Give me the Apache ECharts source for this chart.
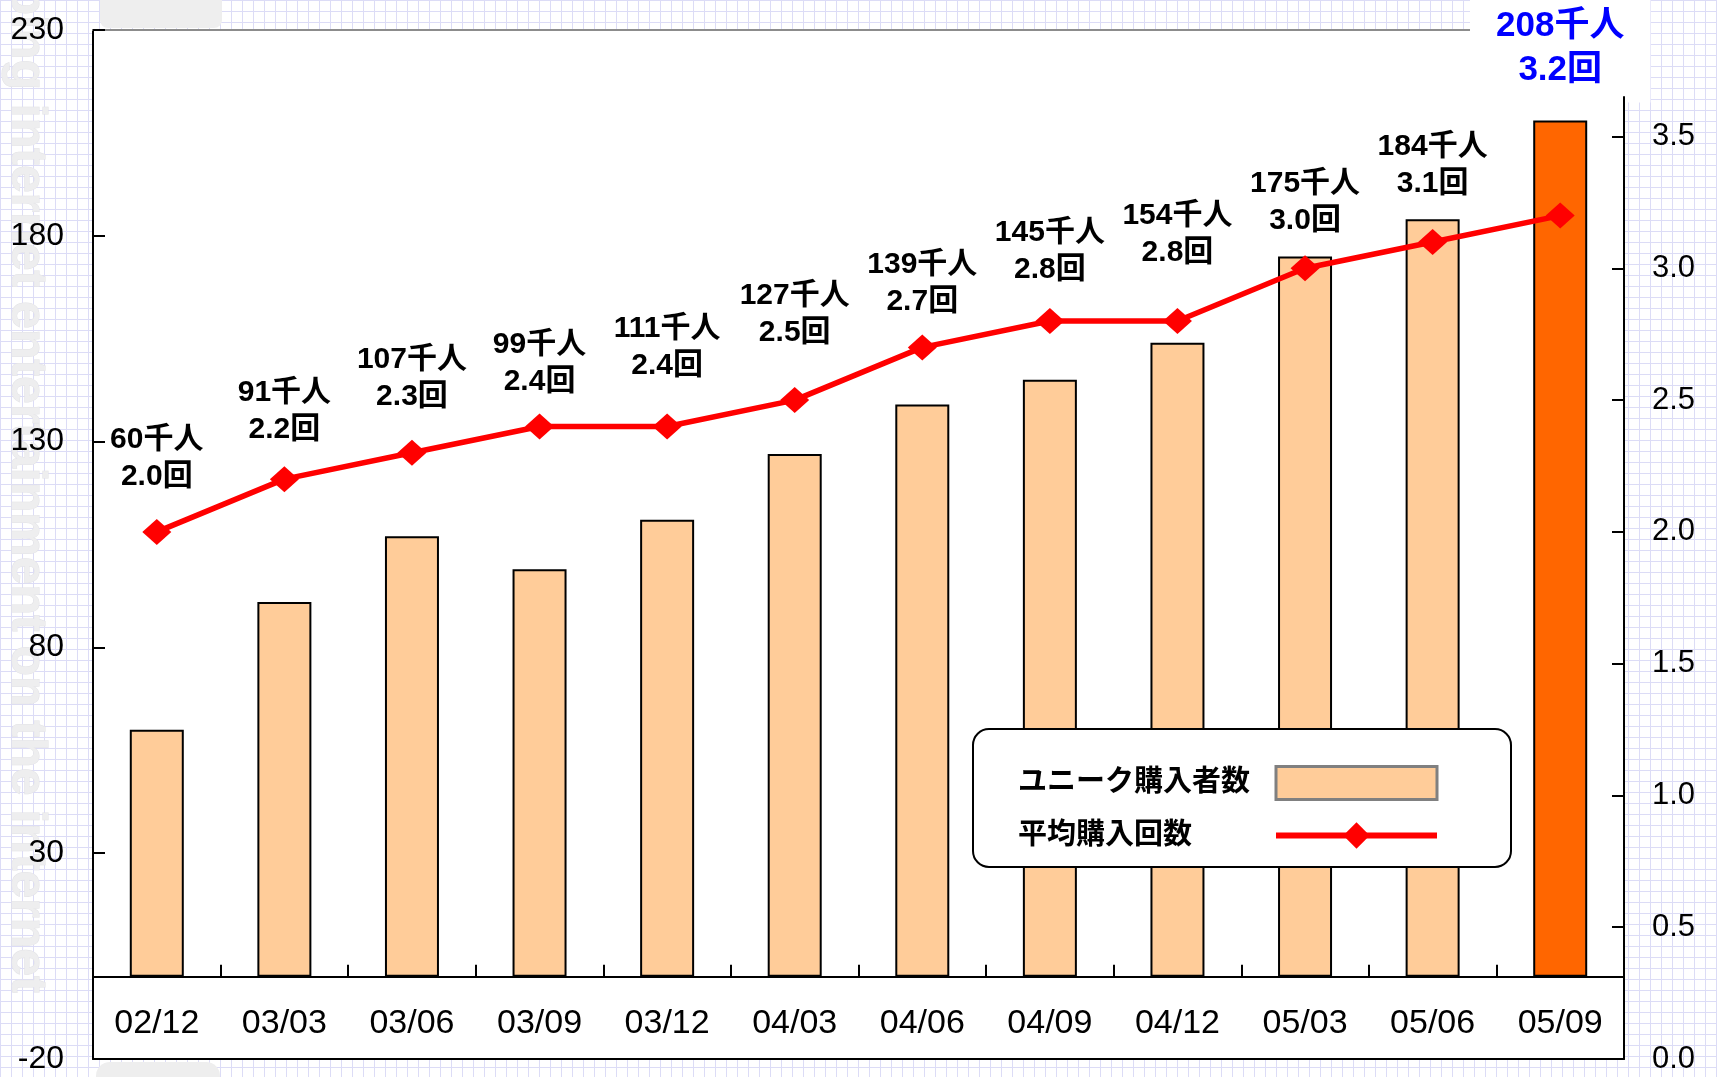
<!DOCTYPE html>
<html>
<head>
<meta charset="utf-8">
<script src="https://cdn.jsdelivr.net/npm/echarts@6/dist/echarts.min.js"></script>
<style>
  html, body {
    margin: 0;
    padding: 0;
    background-color: #fff;
    background-image:
      linear-gradient(to right, #dcdcf6 1px, transparent 1px),
      linear-gradient(to bottom, #dcdcf6 1px, transparent 1px);
    background-size: 11px 11px;
  }
  #chart { width: 1717px; height: 1077px; }
</style>
</head>
<body>
<div id="chart"></div>
<script>
// data
const categories = ['02/12', '03/03', '03/06', '03/09', '03/12', '04/03', '04/06', '04/09', '04/12', '05/03', '05/06', '05/09'];
const buyers = [60, 91, 107, 99, 111, 127, 139, 145, 154, 175, 184, 208];        // 千人
const avgPurchases = [2.0, 2.2, 2.3, 2.4, 2.4, 2.5, 2.7, 2.8, 2.8, 3.0, 3.1, 3.2]; // 回
const leftTicks = [-20, 30, 80, 130, 180, 230];
const rightTicks = [0, 0.5, 1.0, 1.5, 2.0, 2.5, 3.0, 3.5];
const seriesNames = ['ユニーク購入者数', '平均購入回数'];

const FONT = "'Liberation Sans', 'Noto Sans CJK JP', sans-serif";
const last = categories.length - 1;

// plot box
const GRID_TOP = 30, GRID_BOTTOM = 18, CHART_H = 1077;
const leftMin = leftTicks[0], leftMax = leftTicks[leftTicks.length - 1];
// lift the category axis from the bottom edge up to the value 0
const zeroOffset = -(CHART_H - GRID_TOP - GRID_BOTTOM) * (0 - leftMin) / (leftMax - leftMin);
// the labels in the original were placed by hand, a little up or down
const labelNudge = [3, 9, 2, 14, -2, -9, 13, 7, -10, 11, 0, 0];

function labelText(i) {
  return buyers[i] + '千人\n' + avgPurchases[i].toFixed(1) + '回';
}

var myChart = echarts.init(document.getElementById('chart'));

var barData = buyers.map(function (v, i) {
  if (i === last) {
    return {
      value: v,
      itemStyle: { color: '#FF6600' },
      label: {
        show: true,
        position: 'top',
        distance: 18,
        formatter: labelText(i),
        color: '#0000FF',
        fontSize: 35,
        fontWeight: 'bold',
        lineHeight: 44,
        fontFamily: FONT,
        backgroundColor: '#fff',
        padding: [10, 26, 10, 26]
      }
    };
  }
  return v;
});

var lineData = avgPurchases.map(function (v, i) {
  return {
    value: v,
    label: { show: i !== last, formatter: labelText(i), offset: [0, labelNudge[i]] }
  };
});

var option = {
  animation: false,
  graphic: [
    {
      type: 'text',
      x: 26, y: -135,
      rotation: -Math.PI / 2,
      silent: true,
      style: {
        text: 'shopping internet entertainment on the internet',
        fill: '#eeeeef',
        stroke: '#e2e2e6',
        lineWidth: 1,
        font: 'bold 50px ' + FONT,
        align: 'left',
        verticalAlign: 'middle'
      }
    },
    {
      type: 'rect',
      silent: true,
      shape: { x: 100, y: -12, width: 122, height: 40, r: 8 },
      style: { fill: '#eeeeee' }
    },
    {
      type: 'rect',
      silent: true,
      shape: { x: 96, y: 1062, width: 124, height: 40, r: 14 },
      style: { fill: '#eeeeee' }
    }
  ],
  legend: {
    orient: 'vertical',
    left: 973,
    top: 729,
    align: 'right',
    itemWidth: 161,
    itemHeight: 33,
    itemGap: 20,
    padding: [36, 71, 17, 45],
    backgroundColor: '#fff',
    borderColor: '#000',
    borderWidth: 2,
    borderRadius: 16,
    formatter: '{n|{name}}',
    textStyle: {
      rich: {
        n: { width: 253, align: 'left', fontSize: 29, fontWeight: 'bold', color: '#000', fontFamily: FONT }
      }
    },
    data: [
      { name: seriesNames[0], icon: 'rect', itemStyle: { color: '#FFCC99', borderColor: '#808080', borderWidth: 3 } },
      { name: seriesNames[1], lineStyle: { width: 6 } }
    ]
  },
  grid: [
    {
      left: 93, right: 93, top: GRID_TOP, bottom: GRID_BOTTOM,
      outerBoundsMode: 'none', containLabel: false,
      show: true, backgroundColor: '#fff', borderWidth: 0
    },
    { left: 93, right: 93, top: 97, bottom: GRID_BOTTOM, outerBoundsMode: 'none', containLabel: false }
  ],
  xAxis: [
    {
      type: 'category',
      gridIndex: 0,
      data: categories,
      position: 'bottom',
      offset: zeroOffset,
      axisLine: { onZero: false, lineStyle: { color: '#000', width: 2 } },
      axisTick: { show: true, inside: true, length: 12, lineStyle: { color: '#000', width: 2 } },
      axisLabel: { show: true, color: '#000', fontSize: 34, fontFamily: FONT, margin: 30 }
    },
    {
      type: 'category',
      gridIndex: 1,
      data: categories,
      show: false,
      axisLine: { onZero: false }
    },
    {
      type: 'category',
      gridIndex: 0,
      data: categories,
      position: 'top',
      axisLine: { onZero: false, lineStyle: { color: '#8c8c8c', width: 2 } },
      axisTick: { show: false },
      axisLabel: { show: false }
    },
    {
      type: 'category',
      gridIndex: 0,
      data: categories,
      position: 'bottom',
      offset: 0,
      axisLine: { onZero: false, lineStyle: { color: '#000', width: 2 } },
      axisTick: { show: false },
      axisLabel: { show: false }
    }
  ],
  yAxis: [
    {
      type: 'value',
      gridIndex: 0,
      position: 'left',
      min: leftMin,
      max: leftMax,
      interval: leftTicks[1] - leftTicks[0],
      splitLine: { show: false },
      axisLine: { show: true, onZero: false, lineStyle: { color: '#000', width: 2 } },
      axisTick: { show: true, inside: true, length: 12, lineStyle: { color: '#000', width: 2 } },
      axisLabel: { color: '#000', fontSize: 32, fontFamily: FONT, margin: 29 }
    },
    {
      type: 'value',
      gridIndex: 1,
      position: 'right',
      min: 0,
      max: 3.65,
      z: 10,
      splitLine: { show: false },
      axisLine: { show: true, onZero: false, lineStyle: { color: '#000', width: 2 } },
      axisTick: { show: true, inside: true, length: 12, customValues: rightTicks, lineStyle: { color: '#000', width: 2 } },
      axisLabel: {
        color: '#000', fontSize: 31, fontFamily: FONT, margin: 28,
        customValues: rightTicks,
        formatter: function (v) { return v.toFixed(1); }
      }
    }
  ],
  series: [
    {
      name: seriesNames[0],
      type: 'bar',
      xAxisIndex: 0,
      yAxisIndex: 0,
      barWidth: 54,
      itemStyle: { color: '#FFCC99', borderColor: '#000', borderWidth: 2 },
      data: barData
    },
    {
      name: seriesNames[1],
      type: 'line',
      xAxisIndex: 1,
      yAxisIndex: 1,
      symbol: 'diamond',
      symbolSize: [29, 26],
      lineStyle: { color: '#FF0000', width: 5.5 },
      itemStyle: { color: '#FF0000' },
      label: {
        show: true,
        position: 'top',
        distance: 27,
        color: '#000',
        fontSize: 30,
        fontWeight: 'bold',
        lineHeight: 37,
        fontFamily: FONT
      },
      data: lineData
    }
  ]
};

myChart.setOption(option);
</script>
</body>
</html>
